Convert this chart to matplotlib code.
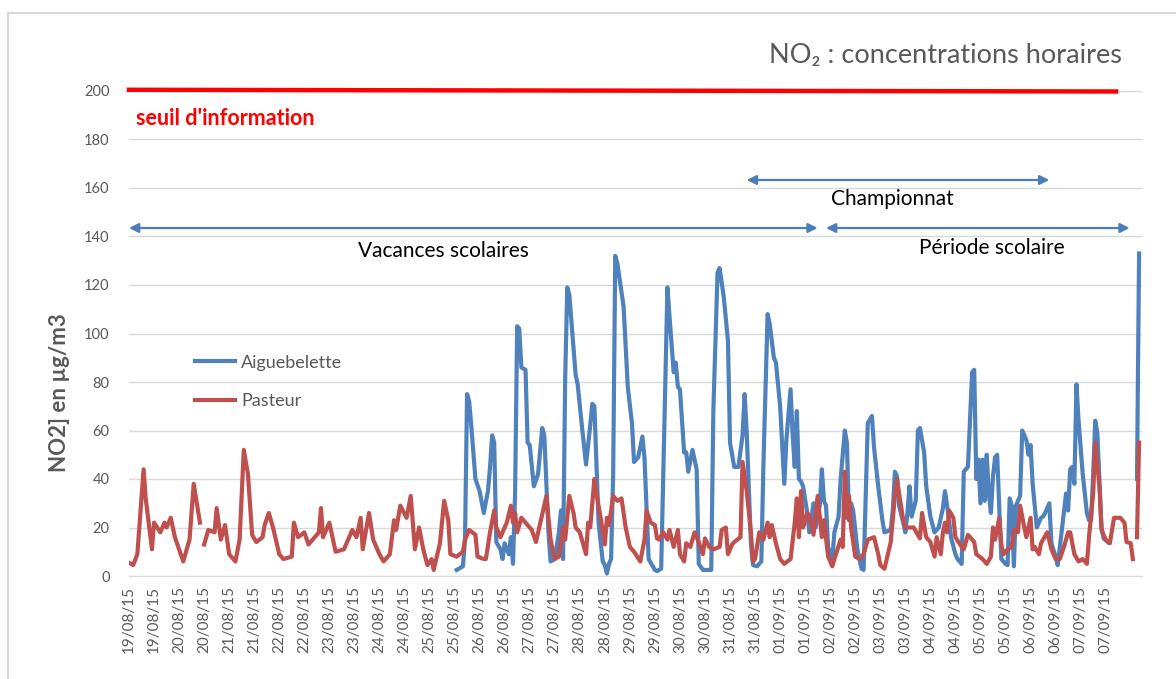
import numpy as np
import pandas as pd
import matplotlib
matplotlib.use("Agg")
import matplotlib.pyplot as plt
from matplotlib.lines import Line2D

nan = np.nan

# Pasteur (hours since 19/08/15 00:00, NO2 in ug/m3)
pasteur_h = [0, 2, 4, 7, 8, 11, 12, 15, 17, 18,
             20, 22, 26, 29, 31, 34, 35, 36, 38, 41,
             42, 44, 46, 48, 51, 53, 55, 57, 59, 61,
             64, 65, 67, 69, 72, 74, 78, 79, 81, 84,
             86, 89, 91, 92, 93, 96, 99, 103, 107, 109,
             111, 112, 115, 117, 120, 122, 125, 127, 128, 130,
             133, 135, 137, 139, 141, 143, 145, 146, 149, 151,
             153, 154, 157, 160, 161, 163, 166, 167, 170, 171,
             173, 175, 176, 178, 181, 183, 184, 185, 186, 188,
             190, 193, 195, 200, 202, 204, 206, 208, 209, 211,
             213, 214, 216, 219, 220, 221, 223, 224, 226, 228,
             229, 230, 232, 234, 236, 238, 240, 242, 245, 247,
             248, 250, 252, 253, 254, 256, 258, 259, 261, 263,
             264, 266, 267, 269, 271, 273, 275, 276, 278, 280,
             283, 284, 286, 287, 289, 290, 293, 294, 296, 298,
             299, 300, 302, 304, 306, 307, 308, 310, 312, 314,
             317, 319, 320, 321, 322, 323, 325, 326, 328, 330,
             332, 333, 335, 337, 338, 341, 342, 343, 344, 345,
             346, 348, 350, 352, 354, 357, 359, 360, 362, 365,
             367, 368, 369, 371, 372, 374, 376, 379, 380, 382,
             384, 386, 387, 389, 390, 391, 392, 393, 395, 396,
             399, 400, 402, 405, 406, 409, 411, 413, 414, 415,
             417, 418, 419, 421, 423, 424, 426, 427, 429, 430,
             432, 433, 434, 436, 437, 438, 440, 442, 444, 446,
             448, 450, 451, 453, 455, 457, 459, 460, 462, 463,
             465, 466, 468, 470, 472, 475, 477, 478, 480, 481,
             482, 483, 484]
pasteur = [5.5, 4.5, 9, 44, 32, 11, 22, 18, 22, 20,
           24, 16, 6, 15, 38, 22, nan, 13, 19, 18,
           28, 15, 21, 9, 6, 15, 52, 42, 17, 14,
           16, 21, 26, 20, 9, 7, 8, 22, 16, 18,
           13, 16, 18, 28, 16, 22, 10, 11, 19, 16,
           24, 11, 26, 15, 9, 6, 9, 23, 19, 29,
           24, 33, 11, 20, 11, 4.5, 7, 2.5, 13.5, 31,
           23, 9, 8, 10, 15, 19, 17, 8, 7, 7,
           18, 27, 20, 16, 22, 29, 22, 26, 18, 24,
           22, 19, 14, 33, 15, 7, 8, 20, 15, 33,
           26, 20, 18, 9, 22, 20, 40, 34, 24, 13,
           24, 21, 33, 31, 32, 20, 12, 10, 6, 15,
           27, 22, 21, 15.5, 15, 18, 15, 19, 12, 19,
           9, 6, 13.5, 12, 18, 14, 9, 15.5, 12, 11,
           12, 19, 20, 9, 13, 14, 16, 47, 35, 18,
           6, 7, 18, 15, 22, 16, 21, 13.5, 7, 5,
           7, 22, 32, 16, 35, 20, 26, 25, 17, 33,
           16, 23, 8, 4, 7, 15, 12, 43, 24, 33,
           20, 8, 7, 9, 15, 16, 9, 4.5, 3, 14,
           33, 40, 34, 23, 20, 20, 20, 15.5, 26, 16,
           14, 8, 16, 9, 18, 22, 18, 27, 24, 16,
           12, 11, 17, 14, 9, 7, 5, 8, 20, 15,
           24, 13, 9, 11, 12, 19, 18, 29, 20, 16,
           24, 11, 12, 9, 13.5, 15, 18, 11, 7, 7,
           12, 18, 18, 9, 6, 7, 5, 16, 34, 55,
           37, 19, 15, 13.5, 24, 24, 22, 14, 13.5, 7,
           nan, 16, 55]

# Aiguebelette
aigue_h = [157, 160, 161, 162, 163, 164, 166, 168, 170, 172,
           173, 174, 175, 176, 178, 179, 180, 182, 183, 184,
           185, 186, 187, 188, 190, 191, 192, 194, 196, 198,
           199, 201, 202, 204, 206, 207, 208, 209, 210, 211,
           214, 215, 217, 219, 221, 222, 223, 225, 227, 228,
           229, 230, 231, 232, 233, 234, 237, 239, 241, 242,
           244, 246, 247, 249, 252, 253, 255, 256, 258, 259,
           261, 262, 263, 264, 266, 267, 268, 270, 272, 273,
           275, 279, 280, 282, 283, 285, 287, 288, 290, 292,
           294, 295, 296, 298, 299, 301, 303, 304, 306, 307,
           309, 310, 312, 314, 315, 317, 318, 319, 320, 321,
           322, 323, 325, 326, 328, 329, 331, 332, 333, 334,
           335, 337, 338, 340, 341, 343, 344, 345, 346, 347,
           349, 351, 352, 354, 356, 357, 359, 361, 362, 365,
           366, 367, 368, 369, 371, 372, 373, 374, 375, 377,
           378, 379, 381, 382, 384, 386, 388, 390, 391, 392,
           394, 396, 397, 399, 400, 401, 402, 404, 405, 406,
           407, 408, 409, 410, 411, 412, 413, 414, 415, 416,
           417, 418, 420, 421, 422, 423, 424, 425, 427, 428,
           430, 431, 432, 433, 435, 437, 438, 439, 441, 442,
           444, 445, 447, 449, 450, 451, 452, 453, 454, 455,
           457, 459, 460, 461, 462, 463, 464, 466, 467, 469,
           470, 483, 484]
aigue = [2.5, 4, 15, 75, 72, 62, 40, 35, 26, 35,
         45, 58, 55, 14, 11, 7, 13.5, 9, 16, 5,
         34, 103, 102, 86, 85, 55, 54, 37, 42, 61,
         58, 18, 6, 7, 18, 27, 7, 81, 119, 116,
         83, 79, 62, 46, 62, 71, 70, 22, 6, 4.5,
         1, 5, 7, 42, 132, 129, 111, 78, 63, 47,
         49, 57.5, 49, 7, 2.5, 2, 3, 42, 119, 107,
         84, 88, 78, 77, 51, 51, 43, 52, 44, 5,
         2.5, 2.5, 68, 125, 127, 115, 97, 55, 45, 45,
         58, 75, 59, 13.5, 4.5, 4, 6, 46, 108, 104,
         90, 88, 70, 38, 56, 77, 58, 45, 68, 40,
         39, 37, 26, 18, 30, 20, 29, 44, 31, 29,
         12, 7, 18, 24.5, 40, 60, 55, 23, 30, 27,
         11, 3, 2.5, 63, 66, 53, 37, 23, 18, 19,
         27, 43, 41, 29, 22, 18, 26, 37, 24.5, 31,
         60, 61, 51, 37, 24.5, 18, 20, 28, 35, 29,
         15.5, 9, 7, 5, 43, 44, 45, 84, 85, 40,
         48, 30, 48, 31, 50, 34, 26, 41, 49, 50,
         29, 7, 5, 4.5, 32, 29, 4, 29, 33, 60,
         56, 50, 54, 38, 20, 24, 24.5, 26, 30, 13.5,
         8, 4.5, 19, 34, 27, 44, 45, 38, 79, 64,
         42, 26, 23, 23, 42, 64, 59, 20, 15.5, 14,
         nan, 40, 133]

# seuil d'information
seuil_h = [0, 473]
seuil = [200.5, 199.8]

# periods (start hour, end hour)
periods = ["Vacances scolaires", "Championnat", "Période scolaire"]
period_start = [0, 296, 334]
period_end = [330, 441, 479.5]

tick_h = np.arange(0, 469, 12)
tick_labels = pd.date_range("2015-08-19", periods=len(tick_h), freq="12h").strftime("%d/%m/%y")

plt.rcParams["font.family"] = ["Lato", "DejaVu Sans"]
grey = "#595959"

fig = plt.figure(figsize=(11.76, 6.79), dpi=100)
ax = fig.add_axes([129 / 1176, 103 / 679, 1013 / 1176, 485 / 679])

ax.plot(aigue_h, aigue, color="#4F81BD", lw=3, label="Aiguebelette", solid_joinstyle="round")
ax.plot(pasteur_h, pasteur, color="#C0504D", lw=3, label="Pasteur", solid_joinstyle="round")
ax.plot(seuil_h, seuil, color="#FF0000", lw=3.2, clip_on=False)

ax.set_xlim(0, 485.4)
ax.set_ylim(0, 200)
ax.set_yticks(range(0, 201, 20))
ax.set_xticks(tick_h)
ax.set_xticklabels(tick_labels, rotation=90, fontsize=11, color=grey)
ax.tick_params(axis="y", labelsize=10.5, labelcolor=grey, length=0, pad=14)
ax.tick_params(axis="x", length=0, pad=7)
ax.grid(axis="y", color="#D9D9D9", lw=1)
ax.set_axisbelow(True)
for s in ["top", "right", "left"]:
    ax.spines[s].set_visible(False)
ax.spines["bottom"].set_color("#D9D9D9")

ax.text(3.5, 188.5, "seuil d'information", color="#FF0000", fontweight="bold", fontsize=15.5, va="center")

# period arrows
levels = [143.5, 163.3, 143.5]
text_x = [150.5, 365.6, 413.5]
text_y = [134, 155.5, 135.3]
for name, a, b, lv, tx, ty in zip(periods, period_start, period_end, levels, text_x, text_y):
    ax.annotate("", xy=(b, lv), xytext=(a, lv), annotation_clip=False,
                arrowprops=dict(arrowstyle="<|-|>", color="#4A7EBB", lw=1.6,
                                mutation_scale=14, shrinkA=0, shrinkB=0))
    ax.text(tx, ty, name, ha="center", va="center", fontsize=15, color="black")

ax.legend(loc="center left", bbox_to_anchor=(0.065, 0.40), borderaxespad=0, borderpad=0,
          frameon=False, fontsize=13, labelcolor=grey, handlelength=2.2,
          handletextpad=0.35, labelspacing=1.25)

fig.text(1122 / 1176, 1 - 55 / 679, "NO₂ : concentrations horaires", ha="right", va="center",
         fontsize=19.5, color=grey)
fig.text(60 / 1176, 1 - 393 / 679, "NO2] en µg/m3", rotation=90, ha="center", va="center",
         fontsize=16, fontweight="bold", color=grey)

# chart frame
fig.add_artist(Line2D([8 / 1176, 1], [1 - 13 / 679] * 2, color="#D9D9D9", lw=1.5))
fig.add_artist(Line2D([8 / 1176] * 2, [0, 1 - 13 / 679], color="#D9D9D9", lw=1.5))

fig.savefig("out.png", dpi=100)
